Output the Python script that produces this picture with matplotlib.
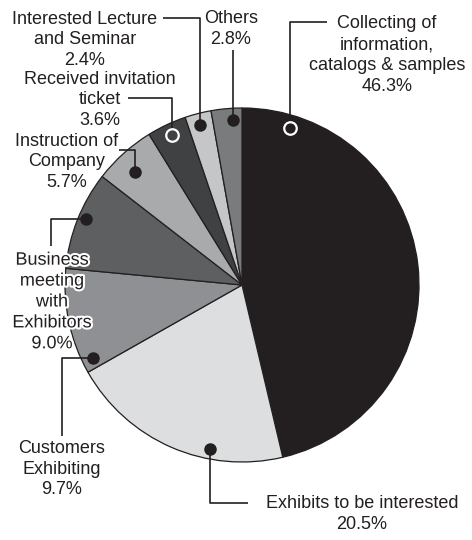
import matplotlib.pyplot as plt
import matplotlib.patheffects as pe

# slices, clockwise from 12 o'clock
labels = ["Collecting of\ninformation,\ncatalogs & samples",
          "Exhibits to be interested",
          "Customers\nExhibiting",
          "Business\nmeeting\nwith\nExhibitors",
          "Instruction of\nCompany",
          "Received invitation\nticket",
          "Interested Lecture\nand Seminar",
          "Others"]
shares = [46.3, 20.5, 9.7, 9.0, 5.7, 3.6, 2.4, 2.8]
colors = ["#231f20", "#dddee0", "#8f9093", "#5e5f61",
          "#a9aaac", "#404143", "#c5c6c8", "#7a7b7d"]

H = 540
def Y(py):
    return H - py

fig = plt.figure(figsize=(4.72, 5.40), dpi=100)
ax = fig.add_axes([0, 0, 1, 1])

ax.pie(shares, colors=colors, startangle=90, counterclock=False,
       center=(242, Y(285)), radius=177, frame=True,
       wedgeprops=dict(edgecolor="#231f20", linewidth=0.9))
ax.set_xlim(0, 472)
ax.set_ylim(0, H)
ax.set_aspect("equal")
ax.axis("off")

font = dict(family="Liberation Sans", fontsize=13, color="#231f20",
            ha="center", va="center", linespacing=1.3)
lw = 1.2
lc = "#231f20"

def leader(pts, dot, ring=False):
    xs = [p[0] for p in pts]
    ys = [Y(p[1]) for p in pts]
    ax.plot(xs, ys, color=lc, lw=lw, solid_capstyle="butt", zorder=3)
    if ring:
        ax.plot(dot[0], Y(dot[1]), "o", ms=9, mfc="none", mec="white",
                mew=1.6, zorder=4)
    else:
        ax.plot(dot[0], Y(dot[1]), "o", ms=8, mfc=lc, mec=lc, zorder=4)

def label(x, y, i, halo=False):
    t = ax.text(x, Y(y), labels[i] + "\n" + f"{shares[i]:.1f}%", **font)
    if halo:
        t.set_path_effects([pe.withStroke(linewidth=3, foreground="white")])

# Collecting
leader([(290, 122), (290, 22), (327, 22)], (290, 128), ring=True)
label(387, 55, 0)
# Exhibits
leader([(210, 449), (210, 503), (248, 503)], (210, 449))
label(362, 514, 1)
# Customers
leader([(93, 358), (62, 358), (62, 436)], (93, 358))
label(62, 469, 2)
# Business meeting
leader([(86, 219), (51, 219), (51, 246)], (86, 219))
label(52, 302, 3, halo=True)
# Instruction
leader([(135, 172), (135, 150), (119, 150)], (135, 172))
label(67, 162, 4)
# Received
leader([(172, 130), (172, 98), (128, 98)], (172, 135), ring=True)
label(100, 100, 5)
# Interested Lecture
leader([(200, 125), (200, 18), (163, 18)], (200, 125))
label(85, 40, 6)
# Others
leader([(233, 120), (233, 50)], (233, 120))
label(231, 29, 7)

fig.savefig("out.png", dpi=100)
